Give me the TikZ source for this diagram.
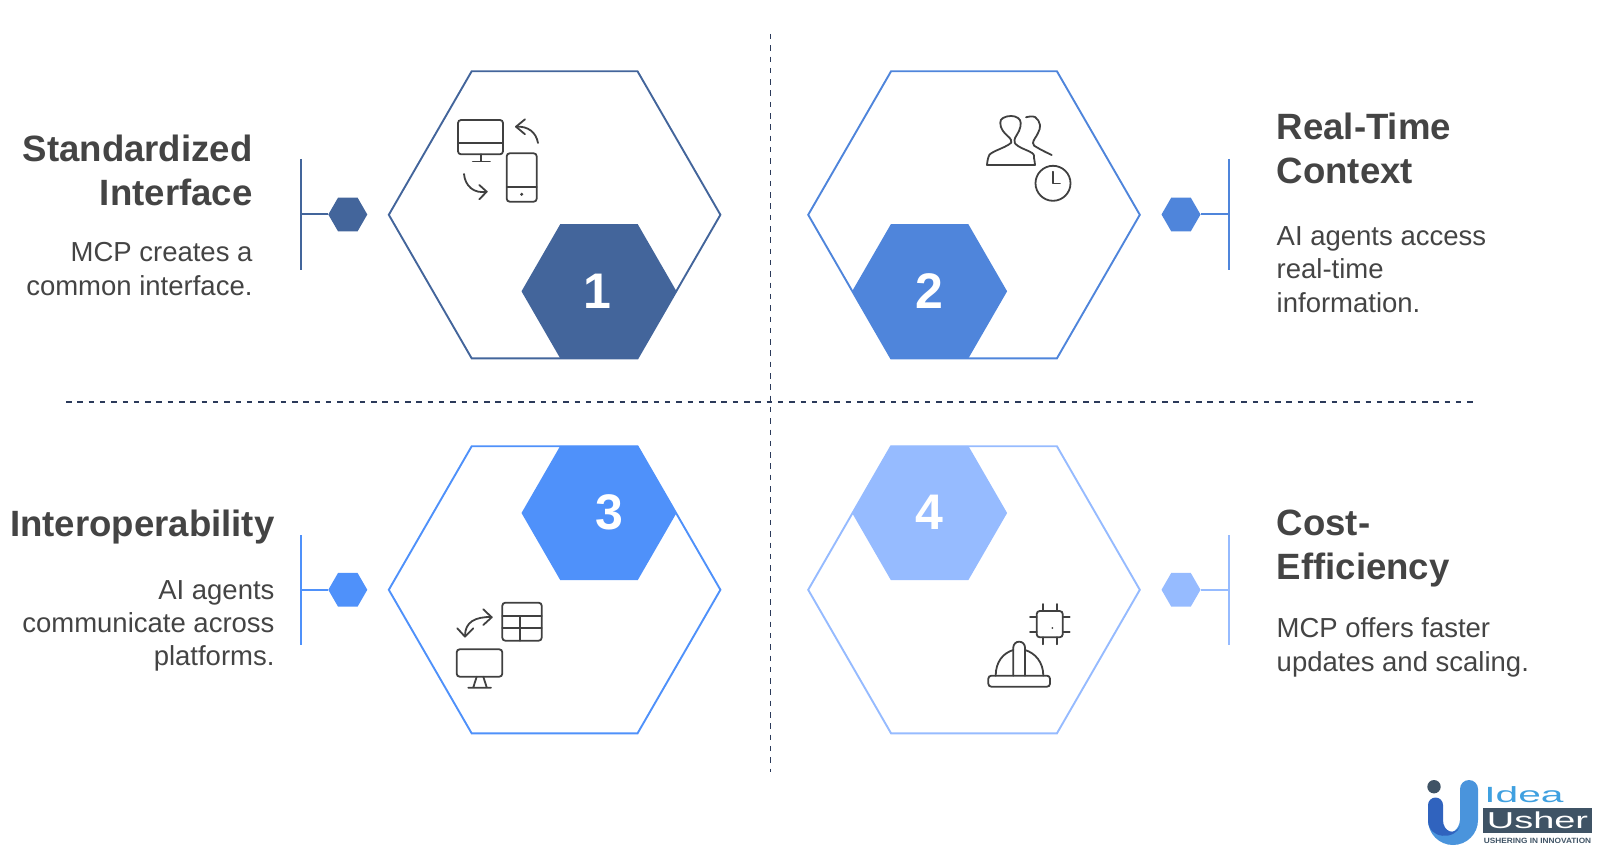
\documentclass[tikz,border=0pt]{standalone}
\usepackage{fontspec}
\setmainfont{Liberation Sans}
\usetikzlibrary{shapes.geometric,positioning}
\definecolor{myDarkBlue}{HTML}{43659B}
\definecolor{myMidBlue}{HTML}{4F85DB}
\definecolor{myBrightBlue}{HTML}{4F91FA}
\definecolor{myPaleBlue}{HTML}{96BBFF}
\definecolor{myInk}{HTML}{444444}
\definecolor{myNavy}{HTML}{2B3A5A}
\definecolor{myIcon}{HTML}{404040}
\definecolor{myLogo}{HTML}{3F5365}
\definecolor{myLogoBlue}{HTML}{4A94DC}
\definecolor{myLogoSky}{HTML}{3FA0E0}
\definecolor{myLogoDeep}{HTML}{3063BE}

\begin{document}
\begin{tikzpicture}[x=1pt,y=-1pt,
	BigHex/.style={regular polygon,regular polygon sides=6,minimum size=331.6pt,inner sep=0pt,fill=none,line width=1.9pt},
	NumHex/.style={regular polygon,regular polygon sides=6,minimum size=155pt,inner sep=0pt},
	Digit/.style={text=white,font=\fontsize{50}{50}\selectfont\bfseries},
	TinyHex/.style={regular polygon,regular polygon sides=6,minimum size=39pt,inner sep=0pt},
	Stem/.style={line width=2pt},
	Divider/.style={myNavy,line width=1.7pt,dash pattern=on 5.5pt off 5.8pt},
	Icon/.style={myIcon,line width=1.8pt,rounded corners=3pt},
	IconTip/.style={myIcon,line width=1.8pt,line cap=round,line join=round},
	Head/.style={text=myInk,font=\fontsize{36.6}{44}\selectfont\bfseries,inner sep=0pt},
	Body/.style={text=myInk,font=\fontsize{27.5}{33.3}\selectfont,inner sep=0pt},
	LogoText/.style={inner sep=0pt,transform shape},
]
	\useasboundingbox (0,0) rectangle (1600,850);

	% dividers
	\coordinate (DivTop) at (770.4,34);
	\coordinate (DivBottom) at (770.4,772);
	\coordinate (DivLeft) at (66,402);
	\coordinate (DivRight) at (1477,402);
	\draw[Divider] (DivTop) -- (DivBottom);
	\draw[Divider] (DivLeft) -- (DivRight);

	% outlines
	\node[BigHex,draw=myDarkBlue] (BigA) at (554.6,214.8){};
	\node[BigHex,draw=myMidBlue] (BigB) at (974,214.8){};
	\node[BigHex,draw=myBrightBlue] (BigC) at (554.6,589.8){};
	\node[BigHex,draw=myPaleBlue] (BigD) at (974,589.8){};

	% numbers
	\node[NumHex,fill=myDarkBlue] (NumA) at (599,291.3){};
	\node[NumHex,fill=myMidBlue] (NumB) at (929.6,291.3){};
	\node[NumHex,fill=myBrightBlue] (NumC) at (599,513){};
	\node[NumHex,fill=myPaleBlue] (NumD) at (929.6,513){};
	\node[Digit] (DigitA) at (597.5,291.3){1};
	\node[Digit] (DigitB) at (929.6,291.3){2};
	\node[Digit] (DigitC) at (609.5,512){3};
	\node[Digit] (DigitD) at (929.6,512){4};

	% stems
	\node[TinyHex,fill=myDarkBlue] (TinyA) at (347.8,214.5){};
	\node[TinyHex,fill=myMidBlue] (TinyB) at (1181,214.5){};
	\node[TinyHex,fill=myBrightBlue] (TinyC) at (347.8,589.8){};
	\node[TinyHex,fill=myPaleBlue] (TinyD) at (1181,589.8){};
	\coordinate (StemA) at (300.5,214.5);
	\coordinate (StemB) at (1228.6,214.5);
	\coordinate (StemC) at (300.5,589.8);
	\coordinate (StemD) at (1228.6,589.8);
	\coordinate (BarAtop) at (300.5,159);
	\coordinate (BarAend) at (300.5,270);
	\coordinate (BarBtop) at (1228.6,159);
	\coordinate (BarBend) at (1228.6,270);
	\coordinate (BarCtop) at (300.5,535);
	\coordinate (BarCend) at (300.5,645);
	\coordinate (BarDtop) at (1228.6,535);
	\coordinate (BarDend) at (1228.6,645);
	\draw[Stem,myDarkBlue] (TinyA) -- (StemA) (BarAtop) -- (BarAend);
	\draw[Stem,myMidBlue] (TinyB) -- (StemB) (BarBtop) -- (BarBend);
	\draw[Stem,myBrightBlue] (TinyC) -- (StemC) (BarCtop) -- (BarCend);
	\draw[Stem,myPaleBlue] (TinyD) -- (StemD) (BarDtop) -- (BarDend);

	% texts
	\node[Head,anchor=east,align=right] (HeadA) at (252.7,170.5){Standardized\\Interface};
	\node[Body,anchor=east,align=right] (BodyA) at (252.7,269){MCP creates a\\common interface.};
	\node[Head,anchor=west,align=left] (HeadB) at (1276.5,148){Real-Time\\Context};
	\node[Body,anchor=west,align=left] (BodyB) at (1276.5,269.5){AI agents access\\real-time\\information.};
	\node[Head,anchor=east] (HeadC) at (274.7,527){Interoperability};
	\node[Body,anchor=east,align=right] (BodyC) at (274.7,626){AI agents\\communicate across\\platforms.};
	\node[Head,anchor=west,align=left] (HeadD) at (1276.5,548.5){Cost-\\Efficiency};
	\node[Body,anchor=west,align=left] (BodyD) at (1276.5,647.5){MCP offers faster\\updates and scaling.};

	% icon 1
	\draw[Icon] (458,120) rectangle (503,154.3);
	\draw[IconTip] (458,142.7) -- (503,142.7) (481,154.3) -- (481,161) (472.7,161.5) -- (490,161.5);
	\draw[Icon] (506.7,153.3) rectangle (536.7,201.7);
	\draw[IconTip] (506.7,187.3) -- (536.7,187.3);
	\fill[myIcon] (521.7,194.3) circle (1.7pt);
	\draw[IconTip] (538,143) .. controls (536,132) and (528,126) .. (516,126.7);
	\draw[IconTip] (525,119.3) -- (516,126.7) -- (525,134.3);
	\draw[IconTip] (464,174) .. controls (465,186) and (474,194) .. (486.7,191.7);
	\draw[IconTip] (479.3,185) -- (486.7,191.7) -- (479.3,199.3);
	% icon 2
	\draw[IconTip] plot[smooth,tension=0.7] coordinates {(987,165) (988.5,157) (992.5,152.5) (1008,145) (1011,140) (1003,131) (1000.3,123) (1003,118) (1011,116) (1018,118) (1020.7,123) (1019,131) (1014.5,140) (1018,146) (1032,153) (1034,158) (1035,165)} -- cycle;
	\draw[IconTip] plot[smooth,tension=0.7] coordinates {(1026,117.3) (1035,117) (1040,125) (1038,133) (1033,143) (1038,148) (1051.7,155)};
	\draw[IconTip] (1053,183.3) circle (17.5pt);
	\draw[IconTip] (1053,171.7) -- (1053,183.5) -- (1060,183.5);
	% icon 3
	\draw[Icon] (502.3,602.7) rectangle (541.7,640.7);
	\draw[IconTip] (502.3,616) -- (541.7,616) (502.3,628.3) -- (541.7,628.3) (520,616) -- (520,640.7);
	\draw[Icon] (456.7,649.3) rectangle (502.3,676.7);
	\draw[IconTip] (476.7,676.7) -- (473.3,687.3) (483.3,676.7) -- (486.7,687.3) (468.3,687.7) -- (491,687.7);
	\draw[IconTip] (465,636) .. controls (465,622) and (475,616.7) .. (491.7,617);
	\draw[IconTip] (483.3,609.3) -- (491.7,617.3) -- (483.3,625);
	\draw[IconTip] (457.3,628.3) -- (465,636.7) -- (473.3,628.3);
	% icon 4
	\draw[Icon] (1036.7,611) rectangle (1062.7,637.3);
	\fill[myIcon] (1052.3,628) circle (1pt);
	\draw[IconTip] (1042.7,604) -- (1042.7,611) (1057.3,604) -- (1057.3,611) (1042.7,637.3) -- (1042.7,644.3) (1057.3,637.3) -- (1057.3,644.3)
		(1030,617.3) -- (1036.7,617.3) (1062.7,617.3) -- (1069.7,617.3) (1030,632) -- (1036.7,632) (1062.7,632) -- (1069.7,632);
	\draw[Icon] (988.3,675.7) rectangle (1050,686.7);
	\draw[IconTip] (995.7,675.7) .. controls (995.7,662) and (1003,653) .. (1013.3,650) (1043.3,675.7) .. controls (1043.3,662) and (1035,653) .. (1025,650);
	\draw[IconTip] (1013.3,675.7) -- (1013.3,647.5) arc (180:0:5.85pt) -- (1025,675.7);

	% logo
	\fill[myLogoBlue] (1428,820) arc (180:360:25pt) -- (1478,789) arc (0:180:9pt) -- (1460,820) .. controls (1458,840) and (1432,836) .. cycle;
	\fill[myLogoDeep] (1428,805) arc (180:0:7.5pt) -- (1443,820) .. controls (1443,832) and (1455,836) .. (1460,826) .. controls (1456,840) and (1428,840) .. (1428,820) -- cycle;
	\fill[myLogo] (1434,786.7) circle (6.7pt);
	\fill[myLogo] (1483.3,807.7) rectangle (1592.3,833.3);
	\node[LogoText,xscale=1.85,text=myLogoSky,font=\fontsize{22}{22}\selectfont] (LogoIdea) at (1524,795){Idea};
	\node[LogoText,xscale=1.65,text=white,font=\fontsize{23}{23}\selectfont] (LogoUsher) at (1537.5,820){Usher};
	\node[LogoText,xscale=1.09,text=myLogo,font=\fontsize{7.6}{7.6}\selectfont\bfseries] (LogoTag) at (1537.5,841){USHERING IN INNOVATION};
\end{tikzpicture}
\end{document}
